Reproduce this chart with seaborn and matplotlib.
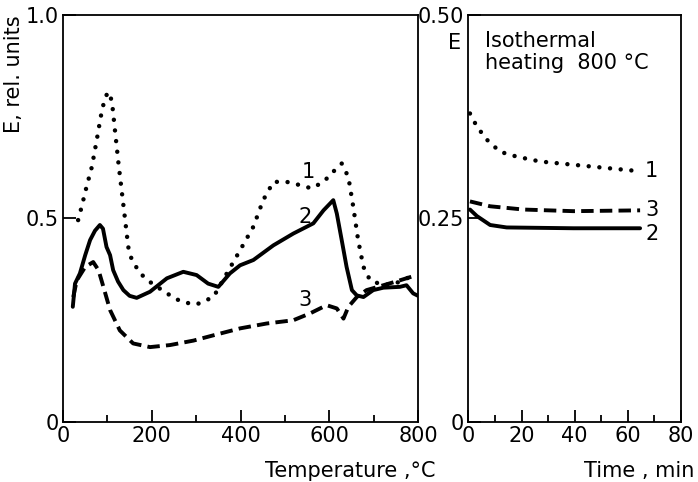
import matplotlib
matplotlib.use("Agg")
import matplotlib.pyplot as plt
import seaborn as sns
import pandas as pd
from matplotlib.ticker import MultipleLocator

# ---- Data: left panel (temperature scan) ----
t1 = [34, 42, 53, 65, 76, 85, 93, 101, 110, 117, 125, 132, 140, 147, 155, 174, 196, 234, 264, 290, 301,
      339, 369, 399, 429, 451, 474, 504, 534, 560, 587, 609, 628, 643, 654, 665, 677, 692, 722, 759, 782, 797]
e1 = [0.496, 0.529, 0.578, 0.627, 0.693, 0.75, 0.79, 0.811, 0.79, 0.717, 0.635, 0.57, 0.496, 0.43, 0.398,
      0.365, 0.344, 0.316, 0.297, 0.29, 0.289, 0.307, 0.365, 0.422, 0.48, 0.545, 0.59, 0.59, 0.582, 0.574,
      0.59, 0.615, 0.635, 0.602, 0.529, 0.447, 0.381, 0.348, 0.336, 0.344, 0.357, 0.365]

t2 = [22, 27, 38, 50, 61, 72, 83, 90, 98, 106, 113, 124, 136, 150, 166, 196, 234, 271, 301, 327, 350, 376, 399,
      429, 474, 519, 564, 587, 609, 617, 628, 639, 651, 662, 677, 699, 722, 759, 774, 789, 800]
e2 = [0.283, 0.34, 0.365, 0.41, 0.447, 0.47, 0.484, 0.475, 0.43, 0.41, 0.373, 0.345, 0.324, 0.31, 0.305, 0.32,
      0.353, 0.369, 0.361, 0.34, 0.332, 0.365, 0.385, 0.398, 0.434, 0.463, 0.488, 0.52, 0.545, 0.512, 0.447,
      0.381, 0.324, 0.311, 0.307, 0.324, 0.33, 0.332, 0.336, 0.316, 0.31]

t3 = [23, 31, 50, 68, 80, 91, 106, 128, 158, 196, 241, 294, 339, 399, 459, 519, 557, 594, 617, 632, 643, 662,
      684, 722, 759, 797]
e3 = [0.307, 0.348, 0.381, 0.393, 0.373, 0.332, 0.275, 0.225, 0.193, 0.184, 0.189, 0.2, 0.213, 0.23, 0.242,
      0.25, 0.267, 0.287, 0.279, 0.254, 0.283, 0.307, 0.324, 0.336, 0.348, 0.361]

# ---- Data: right panel (isothermal at 800 C) ----
m1 = [0.6, 3.2, 6.9, 11.9, 18.2, 27, 39.5, 52, 64.6]
i1 = [0.379, 0.363, 0.347, 0.332, 0.326, 0.32, 0.316, 0.312, 0.308]
m2 = [0.6, 3.2, 8.2, 14.4, 39.5, 64.6]
i2 = [0.261, 0.253, 0.242, 0.239, 0.238, 0.238]
m3 = [0.6, 8.2, 20.7, 39.5, 64.6]
i3 = [0.271, 0.265, 0.261, 0.259, 0.26]

curve_labels = ["1", "2", "3"]

sns.set_style("white")
plt.rcParams['font.family'] = ['DejaVu Sans']
plt.rcParams['text.color'] = 'black'
plt.rcParams['axes.labelcolor'] = 'black'
plt.rcParams['xtick.color'] = 'black'
plt.rcParams['ytick.color'] = 'black'
FS = 15

fig = plt.figure(figsize=(6.98, 4.82), dpi=100)
ax = fig.add_axes([0.0903, 0.1245, 0.5086, 0.8444])
ax2 = fig.add_axes([0.671, 0.1245, 0.3047, 0.8444])

dotted = dict(linestyle=(0, (0.01, 2.4)), dash_capstyle='round', linewidth=3.2)
solid = dict(linestyle='-', linewidth=2.8)
dashed = dict(linestyle=(0, (3.2, 1.6)), linewidth=2.8)

df1 = pd.DataFrame({"T": t1, "E": e1})
df2 = pd.DataFrame({"T": t2, "E": e2})
df3 = pd.DataFrame({"T": t3, "E": e3})
sns.lineplot(data=df1, x="T", y="E", ax=ax, color='black', **dotted)
sns.lineplot(data=df2, x="T", y="E", ax=ax, color='black', **solid)
sns.lineplot(data=df3, x="T", y="E", ax=ax, color='black', **dashed)

ax.text(552, 0.614, curve_labels[0], fontsize=FS, ha='center', va='center')
ax.text(545, 0.504, curve_labels[1], fontsize=FS, ha='center', va='center')
ax.text(545, 0.300, curve_labels[2], fontsize=FS, ha='center', va='center')

dr1 = pd.DataFrame({"t": m1, "E": i1})
dr2 = pd.DataFrame({"t": m2, "E": i2})
dr3 = pd.DataFrame({"t": m3, "E": i3})
sns.lineplot(data=dr1, x="t", y="E", ax=ax2, color='black', **dotted)
sns.lineplot(data=dr2, x="t", y="E", ax=ax2, color='black', **solid)
sns.lineplot(data=dr3, x="t", y="E", ax=ax2, color='black', **dashed)

ax2.text(69, 0.308, curve_labels[0], fontsize=FS, ha='center', va='center')
ax2.text(69, 0.261, curve_labels[2], fontsize=FS, ha='center', va='center')
ax2.text(69, 0.231, curve_labels[1], fontsize=FS, ha='center', va='center')

ax2.text(0.08, 0.96, "Isothermal\nheating  800 °C", transform=ax2.transAxes,
         fontsize=FS, ha='left', va='top', linespacing=1.1)

# Axes formatting
ax.set_xlim(0, 800)
ax.set_ylim(0, 1.0)
ax.set_xticks([0, 200, 400, 600, 800])
ax.set_xticklabels(["0", "200", "400", "600", "800"])
ax.xaxis.set_minor_locator(MultipleLocator(100))
ax.set_yticks([0, 0.5, 1.0])
ax.set_yticklabels(["0", "0.5", "1.0"])

ax2.set_xlim(0, 80)
ax2.set_ylim(0, 0.5)
ax2.set_xticks([0, 20, 40, 60, 80])
ax2.set_xticklabels(["0", "20", "40", "60", "80"])
ax2.xaxis.set_minor_locator(MultipleLocator(10))
ax2.set_yticks([0, 0.25, 0.5])
ax2.set_yticklabels(["0", "0.25", "0.50"])

for a in (ax, ax2):
    for s in a.spines.values():
        s.set_color('black')
        s.set_linewidth(1.3)
        s.set_visible(True)
    a.tick_params(axis='both', which='both', bottom=True, left=True, top=False, right=False)
    a.tick_params(axis='both', which='major', direction='in', length=9, width=1.3,
                  labelsize=FS, colors='black', pad=3)
    a.tick_params(axis='x', which='minor', direction='in', length=5, width=1.3)
    a.tick_params(axis='y', which='major', length=9)

ax.set_xlabel("Temperature ,°C", fontsize=FS, ha='right')
ax.xaxis.set_label_coords(1.05, -0.095)
ax.set_ylabel("E, rel. units", fontsize=FS, ha='right')
ax.yaxis.set_label_coords(-0.11, 1.0)

ax2.set_xlabel("Time , min", fontsize=FS, ha='right')
ax2.xaxis.set_label_coords(1.065, -0.095)
ax2.set_ylabel("E", fontsize=FS, rotation=0, ha='center', va='center')
ax2.yaxis.set_label_coords(-0.065, 0.93)

fig.savefig("out.png", dpi=100)
